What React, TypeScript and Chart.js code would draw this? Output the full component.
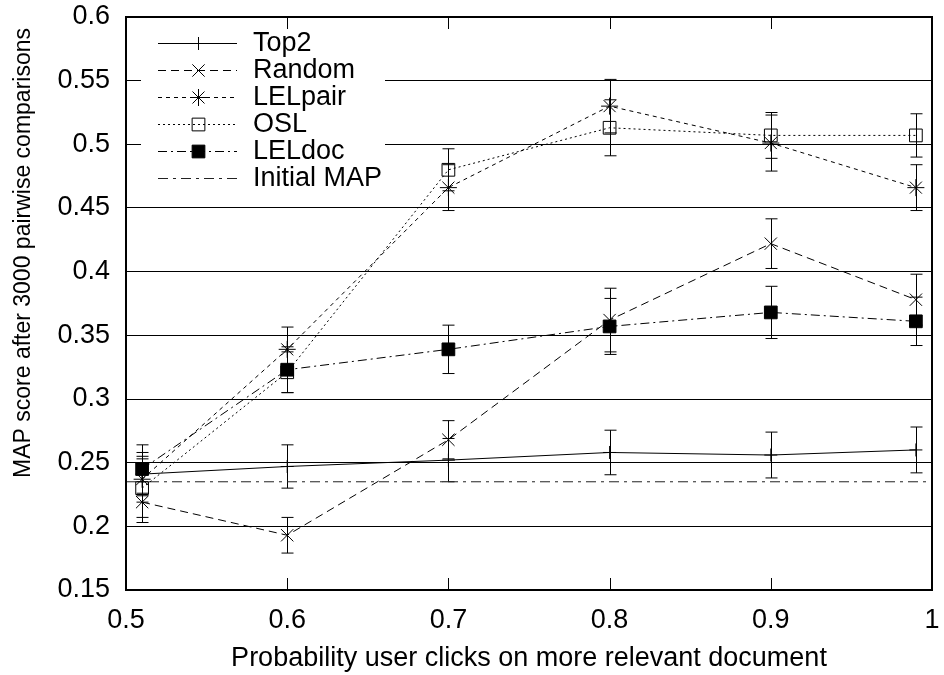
import React, { useEffect, useRef } from 'react';
import { Chart, registerables } from 'chart.js';

Chart.register(...registerables);

// Probability that the simulated user clicks on the more relevant document
const clickProbability = [0.51, 0.6, 0.7, 0.8, 0.9, 0.99];

// MAP after 3000 pairwise comparisons, with error-bar half widths
const top2Map = [0.241, 0.247, 0.252, 0.258, 0.256, 0.26];
const top2Err = [0.017, 0.017, 0.017, 0.0175, 0.018, 0.018];
const randomMap = [0.219, 0.193, 0.268, 0.362, 0.422, 0.378];
const randomErr = [0.016, 0.014, 0.015, 0.025, 0.0195, 0.02];
const lelPairMap = [0.237, 0.339, 0.466, 0.53, 0.501, 0.466];
const lelPairErr = [0.018, 0.0175, 0.018, 0.021, 0.022, 0.018];
const oslMap = [0.23, 0.321, 0.48, 0.513, 0.507, 0.507];
const oslErr = [0.023, 0.016, 0.0165, 0.022, 0.018, 0.017];
const lelDocMap = [0.245, 0.323, 0.339, 0.357, 0.368, 0.361];
const lelDocErr = [0.019, 0.018, 0.019, 0.022, 0.0205, 0.019];
const initialMap = 0.235;

const xTickValues = [0.5, 0.6, 0.7, 0.8, 0.9, 1];
const yTickValues = [0.15, 0.2, 0.25, 0.3, 0.35, 0.4, 0.45, 0.5, 0.55, 0.6];

const yTitle = 'MAP score after 3000 pairwise comparisons';
const xTitle = 'Probability user clicks on more relevant document';

const FONT = '"Liberation Sans", Arial, Helvetica, sans-serif';

const fmt = (v: number) => String(Number(Number(v).toFixed(2)));

const toPoints = (ys: number[]) => clickProbability.map((x, i) => ({ x, y: ys[i] }));

function drawMarker(ctx: CanvasRenderingContext2D, style: string, x: number, y: number, r: number, fill: string) {
  ctx.beginPath();
  const o = r * Math.SQRT1_2;
  if (style === 'cross' || style === 'star') {
    ctx.moveTo(x, y - r);
    ctx.lineTo(x, y + r);
    ctx.moveTo(x - r, y);
    ctx.lineTo(x + r, y);
  }
  if (style === 'crossRot' || style === 'star') {
    ctx.moveTo(x - o, y - o);
    ctx.lineTo(x + o, y + o);
    ctx.moveTo(x - o, y + o);
    ctx.lineTo(x + o, y - o);
  }
  if (style === 'rect') {
    ctx.rect(x - o, y - o, 2 * o, 2 * o);
    ctx.fillStyle = fill;
    ctx.fill();
  }
  ctx.stroke();
}

// Vertical error bars with caps, drawn beneath the markers
const errorBars = {
  id: 'errorBars',
  beforeDatasetsDraw(chart: any) {
    const { ctx, scales } = chart;
    const xs = scales.x;
    const ys = scales.y;
    ctx.save();
    ctx.strokeStyle = '#000';
    ctx.lineWidth = 1;
    ctx.setLineDash([]);
    chart.data.datasets.forEach((ds: any) => {
      if (!ds.errors) return;
      ds.data.forEach((p: any, i: number) => {
        const e = ds.errors[i];
        const px = Math.round(xs.getPixelForValue(p.x)) + 0.5;
        const y1 = ys.getPixelForValue(p.y + e);
        const y2 = ys.getPixelForValue(p.y - e);
        ctx.beginPath();
        ctx.moveTo(px, y1);
        ctx.lineTo(px, y2);
        ctx.moveTo(px - 6, y1);
        ctx.lineTo(px + 6, y1);
        ctx.moveTo(px - 6, y2);
        ctx.lineTo(px + 6, y2);
        ctx.stroke();
      });
    });
    ctx.restore();
  },
};

// Plot frame, inward x ticks, the y-axis title and the key in the upper-left corner
const frameAndKey = {
  id: 'frameAndKey',
  afterDatasetsDraw(chart: any) {
    const { ctx, chartArea, scales } = chart;
    const { left, right, top, bottom } = chartArea;
    ctx.save();

    // key background
    ctx.fillStyle = '#fff';
    ctx.fillRect(left + 15, top + 11, 244, 165);

    ctx.strokeStyle = '#000';
    ctx.lineWidth = 1;
    ctx.setLineDash([]);
    xTickValues.forEach((v) => {
      if (v === xTickValues[0] || v === xTickValues[xTickValues.length - 1]) return;
      const px = Math.round(scales.x.getPixelForValue(v)) + 0.5;
      ctx.beginPath();
      ctx.moveTo(px, bottom);
      ctx.lineTo(px, bottom - 12);
      ctx.moveTo(px, top);
      ctx.lineTo(px, top + 12);
      ctx.stroke();
    });

    ctx.lineWidth = 2;
    ctx.strokeRect(left, top, right - left, bottom - top);

    // y-axis title
    ctx.save();
    ctx.translate(left - 102, top + 236);
    ctx.rotate(-Math.PI / 2);
    ctx.font = `23px ${FONT}`;
    ctx.fillStyle = '#000';
    ctx.textAlign = 'center';
    ctx.textBaseline = 'middle';
    ctx.fillText(yTitle, 0, 0);
    ctx.restore();

    // key entries
    ctx.font = `27px ${FONT}`;
    ctx.textBaseline = 'middle';
    ctx.textAlign = 'left';
    chart.data.datasets.forEach((ds: any, i: number) => {
      const y = Math.round(top + 26 + i * 27) + 0.5;
      const x0 = left + 32;
      const x1 = left + 111;
      ctx.lineWidth = 1;
      ctx.strokeStyle = ds.borderColor;
      ctx.setLineDash(ds.borderDash || []);
      ctx.beginPath();
      ctx.moveTo(x0, y);
      ctx.lineTo(x1, y);
      ctx.stroke();
      ctx.setLineDash([]);
      if (ds.pointRadius > 0) {
        drawMarker(ctx, ds.pointStyle, Math.round((x0 + x1) / 2) + 0.5, y, ds.pointRadius, ds.pointBackgroundColor);
      }
      ctx.fillStyle = '#000';
      ctx.fillText(ds.label, left + 127, y);
    });
    ctx.restore();
  },
};

export default function App() {
  const canvasRef = useRef<HTMLCanvasElement | null>(null);

  useEffect(() => {
    if (!canvasRef.current) return;
    Chart.defaults.font.family = FONT;
    Chart.defaults.color = '#000';

    const series = (label: string, ys: number[], errs: number[], dash: number[], style: string, r: number, fill: string) => ({
      label,
      data: toPoints(ys),
      errors: errs,
      borderColor: '#000',
      borderWidth: 1,
      borderDash: dash,
      pointStyle: style,
      pointRadius: r,
      pointHoverRadius: r,
      pointBorderWidth: 1,
      pointBorderColor: '#000',
      pointBackgroundColor: fill,
      fill: false,
      tension: 0,
    });

    const chart = new Chart(canvasRef.current, {
      type: 'line',
      data: {
        datasets: [
          series('Top2', top2Map, top2Err, [], 'cross', 6.5, '#000'),
          series('Random', randomMap, randomErr, [8, 5], 'crossRot', 8.7, '#000'),
          series('LELpair', lelPairMap, lelPairErr, [4, 4], 'star', 8.5, '#000'),
          series('OSL', oslMap, oslErr, [2, 3], 'rect', 9, 'rgba(0,0,0,0)'),
          series('LELdoc', lelDocMap, lelDocErr, [9, 4, 2, 4], 'rect', 9, '#000'),
          {
            label: 'Initial MAP',
            data: [
              { x: xTickValues[0], y: initialMap },
              { x: xTickValues[xTickValues.length - 1], y: initialMap },
            ],
            borderColor: '#222',
            borderWidth: 1,
            borderDash: [10, 5, 3, 5],
            pointRadius: 0,
            pointHoverRadius: 0,
            fill: false,
          },
        ] as any,
      },
      options: {
        animation: false,
        responsive: true,
        maintainAspectRatio: false,
        events: [],
        layout: { padding: { top: 17, right: 12, bottom: 0, left: 0 } },
        plugins: {
          legend: { display: false },
          tooltip: { enabled: false },
        },
        scales: {
          x: {
            type: 'linear',
            min: 0.5,
            max: 1,
            afterBuildTicks: (scale: any) => {
              scale.ticks = xTickValues.map((value) => ({ value }));
            },
            afterFit: (scale: any) => {
              scale.height = 85;
            },
            grid: {
              display: true,
              drawOnChartArea: false,
              drawTicks: true,
              tickLength: 14,
              color: 'rgba(0,0,0,0)',
              tickColor: 'rgba(0,0,0,0)',
            },
            border: { display: false },
            ticks: {
              padding: 0,
              maxRotation: 0,
              autoSkip: false,
              font: { size: 27 },
              color: '#000',
              callback: (v: any) => fmt(v),
            },
            title: {
              display: true,
              text: xTitle,
              font: { size: 27 },
              color: '#000',
              padding: { top: 0, bottom: 0 },
            },
          },
          y: {
            type: 'linear',
            min: 0.15,
            max: 0.6,
            afterBuildTicks: (scale: any) => {
              scale.ticks = yTickValues.map((value) => ({ value }));
            },
            afterFit: (scale: any) => {
              scale.width = 126;
            },
            grid: {
              color: '#000',
              lineWidth: 1,
              drawTicks: true,
              tickLength: 16,
              tickColor: 'rgba(0,0,0,0)',
            },
            border: { display: false },
            ticks: {
              padding: 0,
              autoSkip: false,
              font: { size: 27 },
              color: '#000',
              callback: (v: any) => fmt(v),
            },
          },
        },
      } as any,
      plugins: [errorBars, frameAndKey],
    });

    return () => chart.destroy();
  }, []);

  return (
    <div style={{ position: 'fixed', left: 0, top: 0, width: 944, height: 675, background: '#fff' }}>
      <canvas ref={canvasRef} />
    </div>
  );
}
